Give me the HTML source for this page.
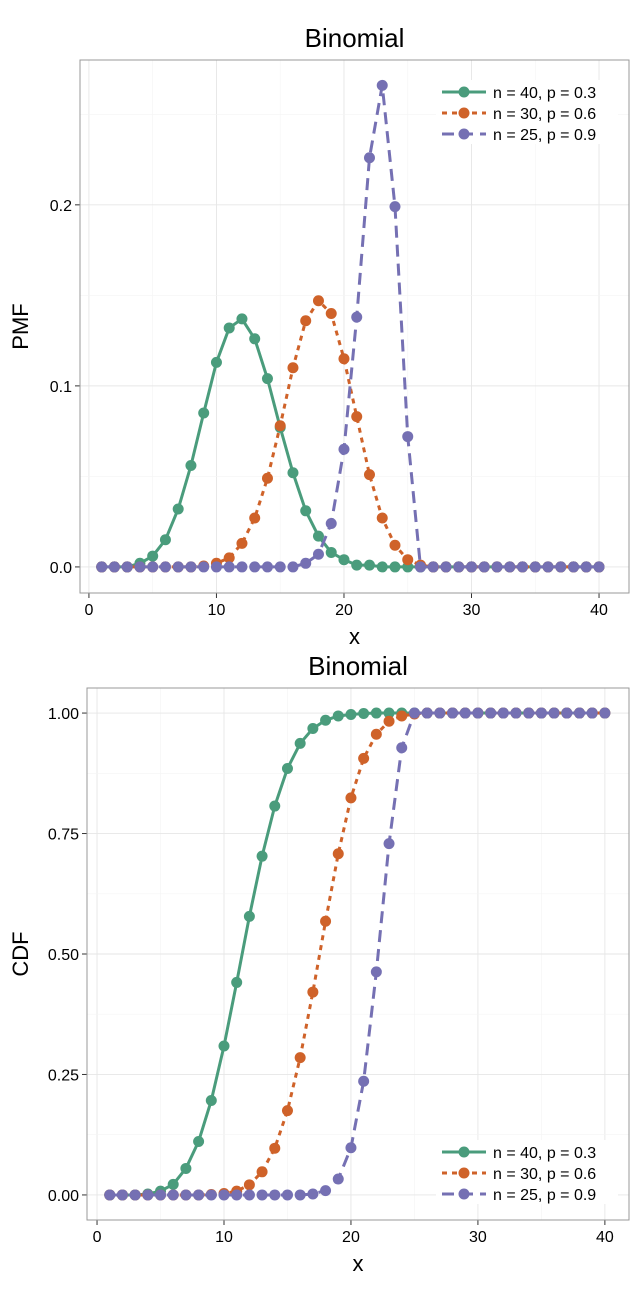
<!DOCTYPE html>
<html><head><meta charset="utf-8"><style>
body{margin:0;background:#fff;font-family:"Liberation Sans",sans-serif}
svg text{font-family:"Liberation Sans",sans-serif}
</style></head><body>
<svg id="svg" width="644" height="1290" xmlns="http://www.w3.org/2000/svg"></svg>
<script>
const xs=[];for(let i=1;i<=40;i++)xs.push(i);
const pmfA=[0,0,0,0.002,0.006,0.015,0.032,0.056,0.085,0.113,0.132,0.137,0.126,0.104,0.077,0.052,0.031,0.017,0.008,0.004,0.001,0.001,0,0,0,0,0,0,0,0,0,0,0,0,0,0,0,0,0,0];
const pmfB=[0,0,0,0,0,0,0,0,0.0005,0.002,0.005,0.013,0.027,0.049,0.078,0.110,0.136,0.147,0.140,0.115,0.083,0.051,0.027,0.012,0.004,0.001,0,0,0,0,0,0,0,0,0,0,0,0,0,0];
const pmfC=[0,0,0,0,0,0,0,0,0,0,0,0,0,0,0,0,0.002,0.007,0.024,0.065,0.138,0.226,0.266,0.199,0.072,0,0,0,0,0,0,0,0,0,0,0,0,0,0,0];
const cdfA=[0,0,0,0.002,0.008,0.022,0.055,0.111,0.196,0.309,0.441,0.578,0.703,0.807,0.885,0.937,0.968,0.985,0.994,0.997,0.999,1,1,1,1,1,1,1,1,1,1,1,1,1,1,1,1,1,1,1];
const cdfB=[0,0,0,0,0,0,0,0,0.001,0.003,0.008,0.021,0.048,0.097,0.175,0.285,0.421,0.568,0.708,0.824,0.906,0.956,0.983,0.994,0.998,1,1,1,1,1,1,1,1,1,1,1,1,1,1,1];
const cdfC=[0,0,0,0,0,0,0,0,0,0,0,0,0,0,0,0,0.002,0.009,0.033,0.098,0.236,0.463,0.729,0.928,1,1,1,1,1,1,1,1,1,1,1,1,1,1,1,1];
const legendLabels=["n = 40, p = 0.3","n = 30, p = 0.6","n = 25, p = 0.9"];
const xTicks=[0,10,20,30,40];
const pmfTicks=[0,0.1,0.2],pmfTickLabels=["0.0","0.1","0.2"];
const cdfTicks=[0,0.25,0.5,0.75,1],cdfTickLabels=["0.00","0.25","0.50","0.75","1.00"];
const cols=["#4a9c7c","#cf6229","#7570b3"],dashes=["none","5,5","12,7"];
const svg=document.getElementById('svg');const NS="http://www.w3.org/2000/svg";
function el(t,a,p){const e=document.createElementNS(NS,t);for(const k in a)e.setAttribute(k,a[k]);(p||svg).appendChild(e);return e;}
function chart(o){
 const sx=v=>o.x0+(v-o.xmin)/(o.xmax-o.xmin)*(o.x1-o.x0);
 const sy=v=>o.y1-(v-o.ymin)/(o.ymax-o.ymin)*(o.y1-o.y0);
 const g=el('g',{});
 el('rect',{x:o.x0,y:o.y0,width:o.x1-o.x0,height:o.y1-o.y0,fill:'#fff'},g);
 for(let v=-5;v<=45;v+=5){if(v<o.xmin||v>o.xmax)continue;el('line',{x1:sx(v),x2:sx(v),y1:o.y0,y2:o.y1,stroke:v%10?'#f4f4f4':'#e6e6e6','stroke-width':v%10?0.6:0.9},g);}
 o.minor.forEach(v=>el('line',{x1:o.x0,x2:o.x1,y1:sy(v),y2:sy(v),stroke:'#f4f4f4','stroke-width':0.6},g));
 o.ticks.forEach((v,i)=>{el('line',{x1:o.x0,x2:o.x1,y1:sy(v),y2:sy(v),stroke:'#e6e6e6','stroke-width':0.9},g);
  el('line',{x1:o.x0-5,x2:o.x0,y1:sy(v),y2:sy(v),stroke:'#333'},g);
  const t=el('text',{x:o.x0-8,y:sy(v)+6,'text-anchor':'end','font-size':16,fill:'#000'},g);t.textContent=o.tl[i];
  });
 xTicks.forEach(v=>{el('line',{x1:sx(v),x2:sx(v),y1:o.y1,y2:o.y1+5,stroke:'#333'},g);
  const t=el('text',{x:sx(v),y:o.y1+22,'text-anchor':'middle','font-size':16,fill:'#000'},g);t.textContent=v;
  });
 o.series.forEach((s,j)=>{
  const d=xs.map((x,i)=>(i?'L':'M')+sx(x)+','+sy(s[i])).join('');
  const p=el('path',{d:d,fill:'none',stroke:cols[j],'stroke-width':3,'stroke-dasharray':dashes[j]},g);
  
  xs.forEach((x,i)=>{const c=el('circle',{cx:sx(x),cy:sy(s[i]),r:5.5,fill:cols[j]},g);
   });
 });
 el('rect',{x:o.x0,y:o.y0,width:o.x1-o.x0,height:o.y1-o.y0,fill:'none',stroke:'#999','stroke-width':1},g);
 const lg=el('g',{},g);
 el('rect',{x:436,y:o.ly-12,width:182,height:64,fill:'#fff'},lg);
 legendLabels.forEach((l,j)=>{const y=o.ly+j*21;
  el('line',{x1:442,x2:486,y1:y,y2:y,stroke:cols[j],'stroke-width':3,'stroke-dasharray':dashes[j]},lg);
  el('circle',{cx:464,cy:y,r:5.5,fill:cols[j]},lg);
  const t=el('text',{x:493,y:y+6,'font-size':16,fill:'#000'},lg);t.textContent=l;
  });
 let t=el('text',{x:(o.x0+o.x1)/2,y:o.y0-13,'text-anchor':'middle','font-size':26,fill:'#000'},g);t.textContent='Binomial';
 
 t=el('text',{x:(o.x0+o.x1)/2,y:o.y1+51,'text-anchor':'middle','font-size':22,fill:'#000'},g);t.textContent='x';
 
 const cy=(o.y0+o.y1)/2;
 t=el('text',{x:28,y:cy,'text-anchor':'middle','font-size':22,fill:'#000',transform:`rotate(-90 28 ${cy})`},g);t.textContent=o.yt;
 
}
chart({name:'pmf-chart',x0:80,x1:629,y0:60,y1:593,xmin:-0.7,xmax:42.35,ymin:-0.0144,ymax:0.28,ticks:pmfTicks,tl:pmfTickLabels,minor:[0.05,0.15,0.25],series:[pmfA,pmfB,pmfC],ly:92,yt:'PMF'});
chart({name:'cdf-chart',x0:87,x1:629,y0:688,y1:1220,xmin:-0.79,xmax:41.9,ymin:-0.052,ymax:1.052,ticks:cdfTicks,tl:cdfTickLabels,minor:[0.125,0.375,0.625,0.875],series:[cdfA,cdfB,cdfC],ly:1152,yt:'CDF'});
</script>
</body></html>
